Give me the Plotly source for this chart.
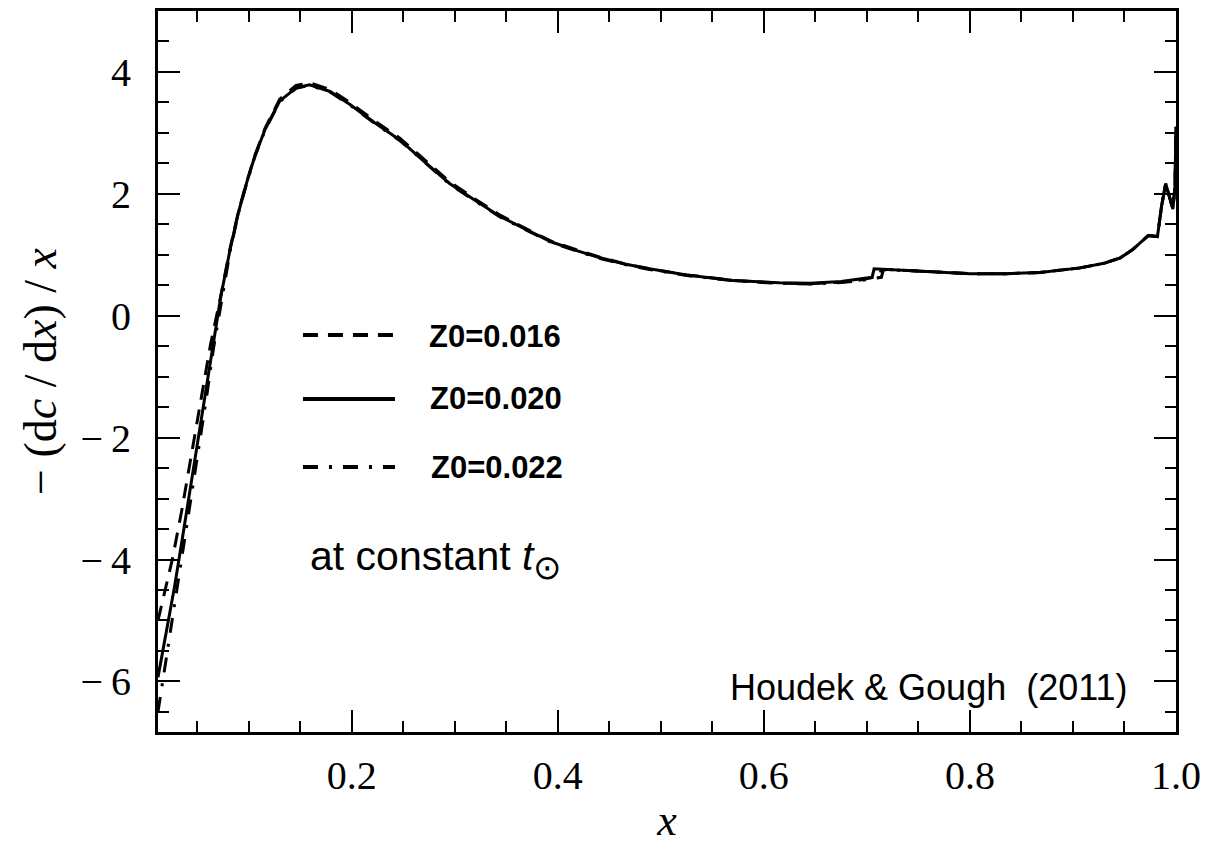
import plotly.graph_objects as go

# ---------------- data ----------------
x_z020 = [0.012, 0.020, 0.028, 0.035, 0.042, 0.049, 0.057, 0.065, 0.073, 0.082,
          0.090, 0.098, 0.106, 0.116, 0.130, 0.146, 0.159, 0.179, 0.198, 0.222,
          0.247, 0.271, 0.295, 0.320, 0.344, 0.370, 0.394, 0.420, 0.441, 0.465,
          0.489, 0.525, 0.570, 0.615, 0.645, 0.675, 0.695, 0.705, 0.707, 0.720,
          0.750, 0.771, 0.800, 0.835, 0.868, 0.907, 0.930, 0.946, 0.958, 0.973,
          0.982, 0.986, 0.990, 0.997, 0.999, 1.000]
y_z020 = [-5.93, -5.20, -4.45, -3.72, -2.97, -2.20, -1.32, -0.47, 0.32, 1.09,
          1.69, 2.18, 2.62, 3.06, 3.52, 3.74, 3.79, 3.68, 3.47, 3.17,
          2.88, 2.52, 2.17, 1.89, 1.63, 1.41, 1.21, 1.06, 0.95, 0.85,
          0.77, 0.67, 0.58, 0.54, 0.535, 0.56, 0.60, 0.63, 0.77, 0.76,
          0.73, 0.71, 0.69, 0.69, 0.71, 0.785, 0.86, 0.95, 1.085, 1.315,
          1.30, 1.80, 2.17, 1.75, 2.12, 3.10]

x_z016 = [0.012, 0.019, 0.026, 0.035, 0.045, 0.054, 0.063, 0.073, 0.082,
          0.090, 0.098, 0.106, 0.116, 0.130, 0.146, 0.160, 0.179, 0.198, 0.222,
          0.247, 0.271, 0.295, 0.320, 0.344, 0.370, 0.394, 0.420, 0.441, 0.465,
          0.489, 0.525, 0.570, 0.615, 0.645, 0.675, 0.695, 0.712, 0.714, 0.720,
          0.750, 0.771, 0.800, 0.835, 0.868, 0.907, 0.930, 0.946, 0.958, 0.973,
          0.982, 0.986, 0.990, 0.997, 0.999, 1.000]
y_z016 = [-5.00, -4.50, -3.99, -3.20, -2.22, -1.33, -0.47, 0.33, 1.11,
          1.70, 2.19, 2.63, 3.08, 3.55, 3.78, 3.82, 3.71, 3.50, 3.20,
          2.91, 2.55, 2.20, 1.91, 1.65, 1.42, 1.22, 1.07, 0.96, 0.85,
          0.77, 0.67, 0.58, 0.535, 0.525, 0.55, 0.59, 0.65, 0.76, 0.76,
          0.73, 0.71, 0.69, 0.69, 0.71, 0.785, 0.86, 0.95, 1.085, 1.315,
          1.30, 1.80, 2.17, 1.75, 2.12, 3.10]

x_z022 = [0.012, 0.020, 0.030, 0.040, 0.046, 0.052, 0.059, 0.066, 0.074, 0.082,
          0.090, 0.098, 0.106, 0.116, 0.130, 0.146, 0.159, 0.179, 0.198, 0.222,
          0.247, 0.271, 0.295, 0.320, 0.344, 0.370, 0.394, 0.420, 0.441, 0.465,
          0.489, 0.525, 0.570, 0.615, 0.645, 0.675, 0.695, 0.714, 0.716, 0.720,
          0.750, 0.771, 0.800, 0.835, 0.868, 0.907, 0.930, 0.946, 0.958, 0.973,
          0.982, 0.986, 0.990, 0.997, 0.999, 1.000]
y_z022 = [-6.50, -5.63, -4.54, -3.45, -2.80, -2.15, -1.35, -0.52, 0.30, 1.06,
          1.68, 2.17, 2.61, 3.05, 3.51, 3.73, 3.78, 3.67, 3.46, 3.16,
          2.87, 2.51, 2.16, 1.88, 1.62, 1.40, 1.20, 1.05, 0.94, 0.84,
          0.76, 0.66, 0.575, 0.53, 0.52, 0.545, 0.58, 0.63, 0.75, 0.755,
          0.73, 0.71, 0.69, 0.69, 0.71, 0.785, 0.86, 0.95, 1.085, 1.315,
          1.30, 1.80, 2.17, 1.75, 2.12, 3.10]

series_names = ["Z0=0.016", "Z0=0.020", "Z0=0.022"]

x_tickvals = [0.2, 0.4, 0.6, 0.8, 1.0]
x_ticktext = ["0.2", "0.4", "0.6", "0.8", "1.0"]
y_tickvals = [-6, -4, -2, 0, 2, 4]
y_ticktext = ["\u2212\u20096", "\u2212\u20094", "\u2212\u20092", "0", "2", "4"]

# ---------------- styles ----------------
DASH = "15px,10px"
DASHDOT = "15px,11px,3px,11px"
LW = 3

fig = go.Figure()
fig.add_trace(go.Scatter(x=x_z016, y=y_z016, mode="lines", name=series_names[0],
                         line=dict(color="black", width=LW, dash=DASH)))
fig.add_trace(go.Scatter(x=x_z020, y=y_z020, mode="lines", name=series_names[1],
                         line=dict(color="black", width=LW)))
fig.add_trace(go.Scatter(x=x_z022, y=y_z022, mode="lines", name=series_names[2],
                         line=dict(color="black", width=LW, dash=DASHDOT)))

tickfont = dict(family="Liberation Serif, DejaVu Serif, serif", size=40, color="black")

fig.update_layout(
    width=1207, height=845, autosize=False,
    margin=dict(l=158, r=31, t=11, b=113, autoexpand=False),
    paper_bgcolor="white", plot_bgcolor="white",
    showlegend=False,
    xaxis=dict(
        range=[0.012, 1.0], showgrid=False, zeroline=False, automargin=False,
        showline=True, linecolor="black", linewidth=3, mirror="allticks",
        ticks="inside", ticklen=22, tickwidth=2, tickcolor="black",
        tickmode="array", tickvals=x_tickvals, ticktext=x_ticktext,
        tickfont=tickfont, ticklabelstandoff=6,
        minor=dict(dtick=0.05, tick0=0, ticks="inside", ticklen=11, tickwidth=2,
                   tickcolor="black", showgrid=False),
        title=dict(text="<i>x</i>", font=dict(family="Liberation Serif, serif", size=44, color="black"),
                   standoff=26),
    ),
    yaxis=dict(
        range=[-6.83, 5.0], showgrid=False, zeroline=False, automargin=False,
        showline=True, linecolor="black", linewidth=3, mirror="allticks",
        ticks="inside", ticklen=22, tickwidth=2, tickcolor="black",
        tickmode="array", tickvals=y_tickvals, ticktext=y_ticktext,
        tickfont=tickfont, ticklabelstandoff=16,
        minor=dict(dtick=0.5, tick0=0, ticks="inside", ticklen=11, tickwidth=2,
                   tickcolor="black", showgrid=False),
        title=dict(text="\u2212 (d<i>c</i> / d<i>x</i>) / <i>x</i>",
                   font=dict(family="Liberation Serif, serif", size=46, color="black"),
                   standoff=10),
    ),
)

# legend keys drawn inside the plot
key_rows = [(0.5506, DASH), (0.4619, None), (0.3675, DASHDOT)]
for (yy, dsh) in key_rows:
    line = dict(color="black", width=4)
    if dsh:
        line["dash"] = dsh
    fig.add_shape(type="line", xref="paper", yref="paper",
                  x0=0.1424, x1=0.2328, y0=yy, y1=yy, line=line)

label_font = dict(family="Liberation Sans, Arial, sans-serif", size=31, color="black")
for name, xx, yy in zip(series_names, [0.2642, 0.2652, 0.2662], [0.5492, 0.4619, 0.3662]):
    fig.add_annotation(text="<b>%s</b>" % name, xref="paper", yref="paper", x=xx, y=yy,
                       xanchor="left", yanchor="middle", showarrow=False, font=label_font)

fig.add_annotation(text="at constant <i>t</i><sub><span style='font-size:34px'>\u2299</span></sub>",
                   xref="paper", yref="paper",
                   x=0.1473, y=0.2386, xanchor="left", yanchor="middle", showarrow=False,
                   font=dict(family="Liberation Sans, Arial, sans-serif", size=41, color="black"))
fig.add_annotation(text="Houdek & Gough\u00a0\u00a0(2011)", xref="paper", yref="paper",
                   x=0.9548, y=0.0624, xanchor="right", yanchor="middle", showarrow=False,
                   font=dict(family="Liberation Sans, Arial, sans-serif", size=36, color="black"))

fig.write_html("out.html")
